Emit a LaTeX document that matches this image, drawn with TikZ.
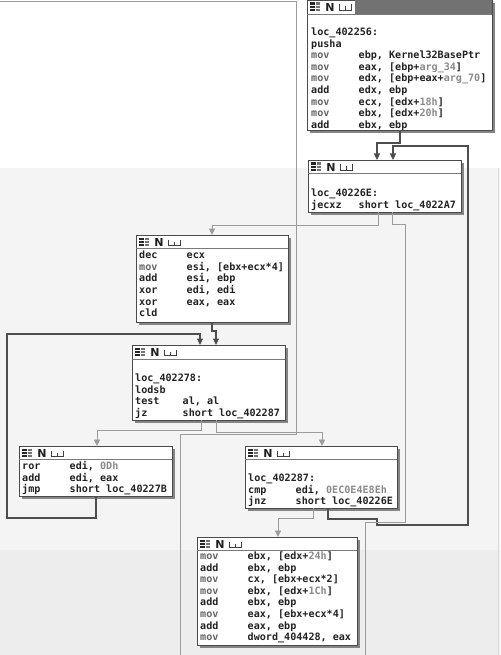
\documentclass[tikz,border=0pt]{standalone}
\usepackage{fontspec}
\setmonofont{DejaVu Sans Mono}
\newfontfamily\hdrfont{DejaVu Sans}
\usetikzlibrary{arrows.meta,shadows}

\definecolor{tx}{HTML}{222222}
\definecolor{mv}{HTML}{666666}
\definecolor{num}{HTML}{8A8A8A}
\definecolor{bordc}{HTML}{4A4A4A}
\definecolor{shadc}{HTML}{858585}
\definecolor{edk}{HTML}{4E4E4E}
\definecolor{elt}{HTML}{9C9C9C}
\definecolor{bgA}{HTML}{F4F4F4}
\definecolor{bgB}{HTML}{EDEDED}
\definecolor{hdk}{HTML}{727272}
\definecolor{hln}{HTML}{7A7A7A}

\newcommand{\ai}[2]{\makebox[47.5pt][l]{#1}#2}
\newcommand{\MOV}{\textcolor{mv}{mov}}
\newcommand{\NUM}[1]{\textcolor{num}{#1}}
\newenvironment{asm}{\begin{tabular}[t]{@{}l@{}}}{\end{tabular}}

\tikzset{
 blk/.style={draw=bordc, fill=white, line width=0.8pt, inner sep=0pt, outer sep=0pt,
   anchor=north west, drop shadow={shadow xshift=2.8pt, shadow yshift=-2.8pt, fill=shadc, opacity=1}},
 code/.style={anchor=base west, inner sep=0pt,
   font=\ttfamily\bfseries\fontsize{10.1}{11.6}\selectfont, text=tx},
 edark/.style={draw=edk, line width=1.2pt, -{Triangle[width=6pt,length=6.5pt]}},
 elight/.style={draw=elt, line width=0.9pt, -{Triangle[width=6pt,length=6.5pt]}},
 hdrline/.style={draw=hln, line width=0.7pt},
}

\newcommand{\hdr}[2]{%
 \draw[hdrline] ([yshift=-#2pt]#1.north west) -- ([yshift=-#2pt]#1.north east);
 \begin{scope}[shift={(#1.north west)}]
  \fill[black!85] (3,2.5) rectangle (8,11);
  \fill[black!55] (8.5,2.5) rectangle (13,11);
  \draw[white,line width=0.6pt] (3,5.3)--(13,5.3) (3,8.2)--(13,8.2);
  \node[font=\hdrfont\bfseries\fontsize{11}{11}\selectfont, inner sep=0pt, text=black!88] (#1N) at (23,7.2) {N};
  \draw[black!75, line width=1pt] (32,4.5)--(32,10.8)--(44,10.8)--(44,4.5) (38,6.5)--(38,10.8);
 \end{scope}}

\begin{document}
\begin{tikzpicture}[x=1pt,y=-1pt]
\useasboundingbox (0,0) rectangle (500,655);
% background bands
\fill[white] (0,0) rectangle (500,168);
\fill[bgA] (0,168) rectangle (500,550);
\fill[bgB] (0,550) rectangle (500,655);
\draw[black!14, line width=0.8pt] (498.5,168) -- (498.5,655);

% blocks
\node[blk, minimum width=185pt, minimum height=130pt] (b1) at (307,0) {};
\node[blk, minimum width=153pt, minimum height=52pt] (b2) at (308,160) {};
\node[blk, minimum width=152pt, minimum height=87pt] (b3) at (136,235) {};
\node[blk, minimum width=153pt, minimum height=75pt] (b4) at (132,345) {};
\node[blk, minimum width=153pt, minimum height=50pt] (b5) at (19,446) {};
\node[blk, minimum width=152pt, minimum height=62pt] (b6) at (245,446) {};
\node[blk, minimum width=160pt, minimum height=108pt] (b7) at (197,537) {};

% headers
\fill[hdk] ([xshift=48pt,yshift=-0.4pt]b1.north west) rectangle ([xshift=-0.4pt,yshift=-14pt]b1.north east);
\hdr{b1}{14}
\hdr{b2}{13}
\hdr{b3}{13}
\hdr{b4}{14}
\hdr{b5}{13}
\hdr{b6}{13}
\hdr{b7}{13}

% code
\node[code] (b1t) at (311,35.5) {\begin{asm}loc\_402256:\\
pusha\\
\ai{\MOV}{ebp, Kernel32BasePtr}\\
\ai{\MOV}{eax, [ebp+\NUM{arg\_34}]}\\
\ai{\MOV}{edx, [ebp+eax+\NUM{arg\_70}]}\\
\ai{add}{edx, ebp}\\
\ai{\MOV}{ecx, [edx+\NUM{18h}]}\\
\ai{\MOV}{ebx, [edx+\NUM{20h}]}\\
\ai{add}{ebx, ebp}\end{asm}};

\node[code] (b2t) at (311,196.5) {\begin{asm}loc\_40226E:\\
\ai{jecxz}{short loc\_4022A7}\end{asm}};

\node[code] (b3t) at (139,258.5) {\begin{asm}\ai{dec}{ecx}\\
\ai{\MOV}{esi, [ebx+ecx*4]}\\
\ai{add}{esi, ebp}\\
\ai{xor}{edi, edi}\\
\ai{xor}{eax, eax}\\
cld\end{asm}};

\node[code] (b4t) at (135,381.5) {\begin{asm}loc\_402278:\\
lodsb\\
\ai{test}{al, al}\\
\ai{jz}{short loc\_402287}\end{asm}};

\node[code] (b5t) at (22,469.5) {\begin{asm}\ai{ror}{edi, \NUM{0Dh}}\\
\ai{add}{edi, eax}\\
\ai{jmp}{short loc\_40227B}\end{asm}};

\node[code] (b6t) at (248,481.5) {\begin{asm}loc\_402287:\\
\ai{cmp}{edi, \NUM{0EC0E4E8Eh}}\\
\ai{jnz}{short loc\_40226E}\end{asm}};

\node[code] (b7t) at (200,559.5) {\begin{asm}\ai{\MOV}{ebx, [edx+\NUM{24h}]}\\
\ai{add}{ebx, ebp}\\
\ai{\MOV}{cx, [ebx+ecx*2]}\\
\ai{\MOV}{ebx, [edx+\NUM{1Ch}]}\\
\ai{add}{ebx, ebp}\\
\ai{\MOV}{eax, [ebx+ecx*4]}\\
\ai{add}{eax, ebp}\\
\ai{\MOV}{dword\_404428, eax}\end{asm}};

% free ends
\coordinate (out1) at (365,655);
\coordinate (in0) at (0,1);
\coordinate (out2) at (180,655);

% edges
\draw[elight,-] (in0) -- ++(296,0) -- ++(0,433) -| (out2);
\draw[edark] ([xshift=93pt]b1.south west) -- ++(0,13) -| ([xshift=69pt]b2.north west);
\draw[edark] ([xshift=83pt]b6.south west) -- ++(0,11) -- ++(49,0) -- ++(0,6) -- ++(91,0)
   |- ([xshift=85pt,yshift=14pt]b2.north west) -- ([xshift=85pt]b2.north west);
\draw[elight] ([xshift=70pt]b2.south west) -- ++(0,13) -| ([xshift=76pt]b3.north west);
\draw[elight,-] ([xshift=84pt]b2.south west) -- ++(0,12) -- ++(13,0) -- ++(0,298) -- ++(-40,0) -- (out1);
\draw[edark] ([xshift=76pt]b3.south west) -- ++(0,9) -| ([xshift=84pt]b4.north west);
\draw[edark] ([xshift=77pt]b5.south west) -- ++(0,22) -- ++(-89,0)
   |- ([xshift=68pt,yshift=11pt]b4.north west) -- ([xshift=68pt]b4.north west);
\draw[elight] ([xshift=69pt]b4.south west) -- ++(0,10) -| ([xshift=78pt]b5.north west);
\draw[elight] ([xshift=84pt]b4.south west) -- ++(0,12) -| ([xshift=77pt]b6.north west);
\draw[elight] ([xshift=68pt]b6.south west) -- ++(0,10) -| ([xshift=81pt]b7.north west);
\end{tikzpicture}
\end{document}
